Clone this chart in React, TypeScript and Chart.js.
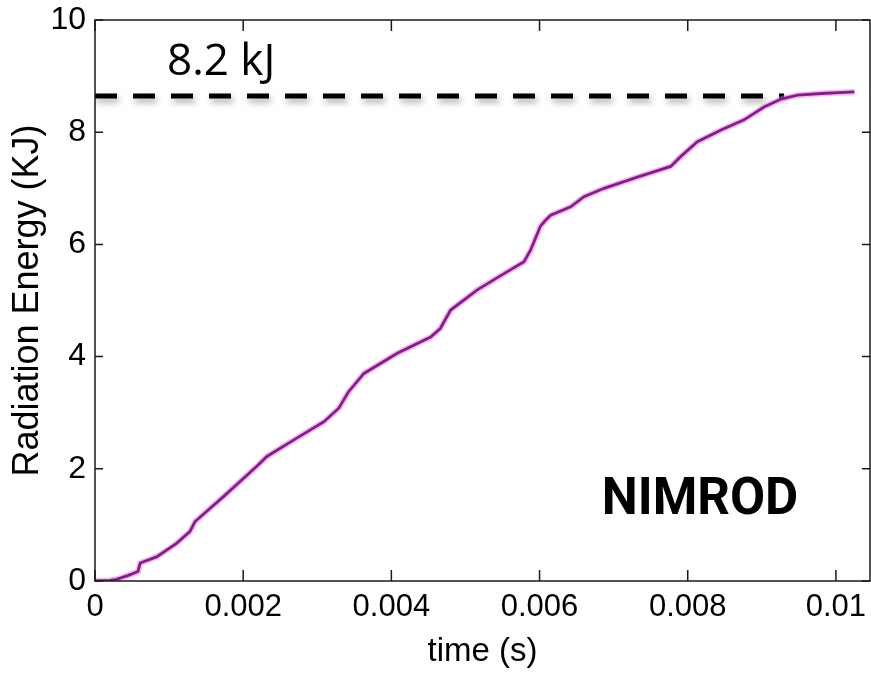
import React, { useEffect, useRef } from 'react';
import { Chart, registerables } from 'chart.js';

Chart.register(...registerables);

// ---- data ----
const timeS = [
  0, 0.0002, 0.00029, 0.00045, 0.00058, 0.00061, 0.00083, 0.0011, 0.00128, 0.00135,
  0.00173, 0.00218, 0.00232, 0.00264, 0.00309, 0.00329, 0.00342, 0.00363, 0.00408, 0.00453,
  0.00466, 0.0048, 0.00516, 0.00552, 0.00579, 0.00588, 0.00601, 0.00608, 0.00615, 0.00642,
  0.0066, 0.00687, 0.00732, 0.00777, 0.0079, 0.00813, 0.00845, 0.00876, 0.00903, 0.00926,
  0.00948, 0.0098, 0.01025,
];
const energyKJ = [
  0, 0.01, 0.03, 0.1, 0.17, 0.32, 0.43, 0.67, 0.88, 1.06,
  1.5, 2.04, 2.22, 2.48, 2.84, 3.08, 3.37, 3.7, 4.06, 4.35,
  4.5, 4.83, 5.19, 5.48, 5.69, 5.9, 6.32, 6.43, 6.52, 6.67,
  6.85, 7.0, 7.2, 7.39, 7.56, 7.83, 8.04, 8.22, 8.45, 8.59,
  8.66, 8.69, 8.72,
];
const refTimeS = [0, 0.0093];
const refEnergyKJ = [8.645, 8.645];

const xTickValues = [0, 0.002, 0.004, 0.006, 0.008, 0.01];
const xTickLabels = ['0', '0.002', '0.004', '0.006', '0.008', '0.01'];
const yTickValues = [0, 2, 4, 6, 8, 10];
const yTickLabels = ['0', '2', '4', '6', '8', '10'];

const xTitle = 'time (s)';
const yTitle = 'Radiation Energy (KJ)';
const annotationText = '8.2 kJ';
const modelName = 'NIMROD';

const X_MIN = 0;
const X_MAX = 0.01046;
const Y_MIN = 0;
const Y_MAX = 10;

const REGULAR = "'Liberation Sans', Arial, sans-serif";

const framePlugin = {
  id: 'matlabFrame',
  beforeDatasetDraw(chart: any, args: any) {
    if (args.meta && args.meta.label === 'ref') {
      const ctx = chart.ctx;
      ctx.save();
      ctx.shadowColor = 'rgba(0,0,0,0.35)';
      ctx.shadowBlur = 6;
      ctx.shadowOffsetX = 2;
      ctx.shadowOffsetY = 4;
    }
  },
  afterDatasetDraw(chart: any, args: any) {
    if (args.meta && args.meta.label === 'ref') {
      chart.ctx.restore();
    }
  },
  afterDraw(chart: any) {
    const { ctx, chartArea } = chart;
    const { left, right, top, bottom } = chartArea;
    const xs = chart.scales.x;
    const ys = chart.scales.y;
    ctx.save();
    ctx.strokeStyle = '#1a1a1a';
    ctx.lineWidth = 1.5;
    ctx.strokeRect(left, top, right - left, bottom - top);
    ctx.beginPath();
    xTickValues.forEach((v) => {
      const px = xs.getPixelForValue(v);
      ctx.moveTo(px, bottom);
      ctx.lineTo(px, bottom - 11);
      ctx.moveTo(px, top);
      ctx.lineTo(px, top + 11);
    });
    yTickValues.forEach((v) => {
      const py = ys.getPixelForValue(v);
      ctx.moveTo(left, py);
      ctx.lineTo(left + 8, py);
      ctx.moveTo(right, py);
      ctx.lineTo(right - 8, py);
    });
    ctx.stroke();

    // annotations
    ctx.fillStyle = '#000';
    ctx.textBaseline = 'alphabetic';
    ctx.textAlign = 'left';
    ctx.font = "44px 'Open Sans', sans-serif";
    ctx.fillText(annotationText, left + 72, top + 55);
    ctx.font = "bold 51px Roboto, sans-serif";
    ctx.textAlign = 'center';
    ctx.fillText(modelName, left + 605, top + 494);
    ctx.restore();
  },
};

export default function App() {
  const canvasRef = useRef<HTMLCanvasElement | null>(null);

  useEffect(() => {
    document.body.style.margin = '0';
    const canvas = canvasRef.current;
    if (!canvas) return;
    Chart.defaults.color = '#000';

    const chart = new Chart(canvas, {
      type: 'line',
      data: {
        datasets: [
          {
            label: 'energy',
            data: timeS.map((t, i) => ({ x: t, y: energyKJ[i] })),
            borderColor: '#8a1a8c',
            borderWidth: 2.8,
            pointRadius: 0,
            tension: 0,
            order: 1,
          },
          {
            label: 'halo',
            data: timeS.map((t, i) => ({ x: t, y: energyKJ[i] })),
            borderColor: 'rgba(226, 110, 226, 0.45)',
            borderWidth: 6,
            pointRadius: 0,
            tension: 0,
            order: 2,
          },
          {
            label: 'ref',
            data: refTimeS.map((t, i) => ({ x: t, y: refEnergyKJ[i] })),
            borderColor: '#000',
            borderWidth: 5,
            borderDash: [22, 16],
            borderCapStyle: 'butt',
            pointRadius: 0,
            tension: 0,
            order: 3,
          },
        ],
      },
      options: {
        responsive: false,
        animation: false,
        devicePixelRatio: 1,
        layout: { padding: { top: 20, right: 1, left: 0, bottom: 0 } },
        plugins: {
          legend: { display: false },
          tooltip: { enabled: false },
        },
        scales: {
          x: {
            type: 'linear',
            min: X_MIN,
            max: X_MAX,
            afterFit: (s: any) => {
              s.height = 93;
              s.paddingLeft = 0;
              s.paddingRight = 0;
            },
            afterBuildTicks: (s: any) => {
              s.ticks = xTickValues.map((v) => ({ value: v }));
            },
            ticks: {
              autoSkip: false,
              maxRotation: 0,
              padding: 8,
              font: { family: REGULAR, size: 31 },
              color: '#000',
              callback: (v: any) => {
                const i = xTickValues.findIndex((t) => Math.abs(t - Number(v)) < 1e-9);
                return i >= 0 ? xTickLabels[i] : '';
              },
            },
            grid: { display: false, drawTicks: false },
            border: { display: false },
            title: {
              display: true,
              text: xTitle,
              font: { family: REGULAR, size: 33 },
              color: '#000',
              padding: { top: 0, bottom: 2 },
            },
          },
          y: {
            type: 'linear',
            min: Y_MIN,
            max: Y_MAX,
            afterFit: (s: any) => {
              s.width = 95;
              s.paddingTop = 0;
              s.paddingBottom = 0;
            },
            afterBuildTicks: (s: any) => {
              s.ticks = yTickValues.map((v) => ({ value: v }));
            },
            ticks: {
              autoSkip: false,
              padding: 9,
              font: { family: REGULAR, size: 32 },
              color: '#000',
              callback: (v: any) => {
                const i = yTickValues.findIndex((t) => Math.abs(t - Number(v)) < 1e-9);
                return i >= 0 ? yTickLabels[i] : '';
              },
            },
            grid: { display: false, drawTicks: false },
            border: { display: false },
            title: {
              display: true,
              text: yTitle,
              font: { family: REGULAR, size: 36 },
              color: '#000',
              padding: { top: 6, bottom: 0 },
            },
          },
        },
      },
      plugins: [framePlugin],
    } as any);

    return () => {
      chart.destroy();
    };
  }, []);

  return (
    <div style={{ width: 871, height: 674, background: '#fff' }}>
      <canvas ref={canvasRef} width={871} height={674} />
    </div>
  );
}
